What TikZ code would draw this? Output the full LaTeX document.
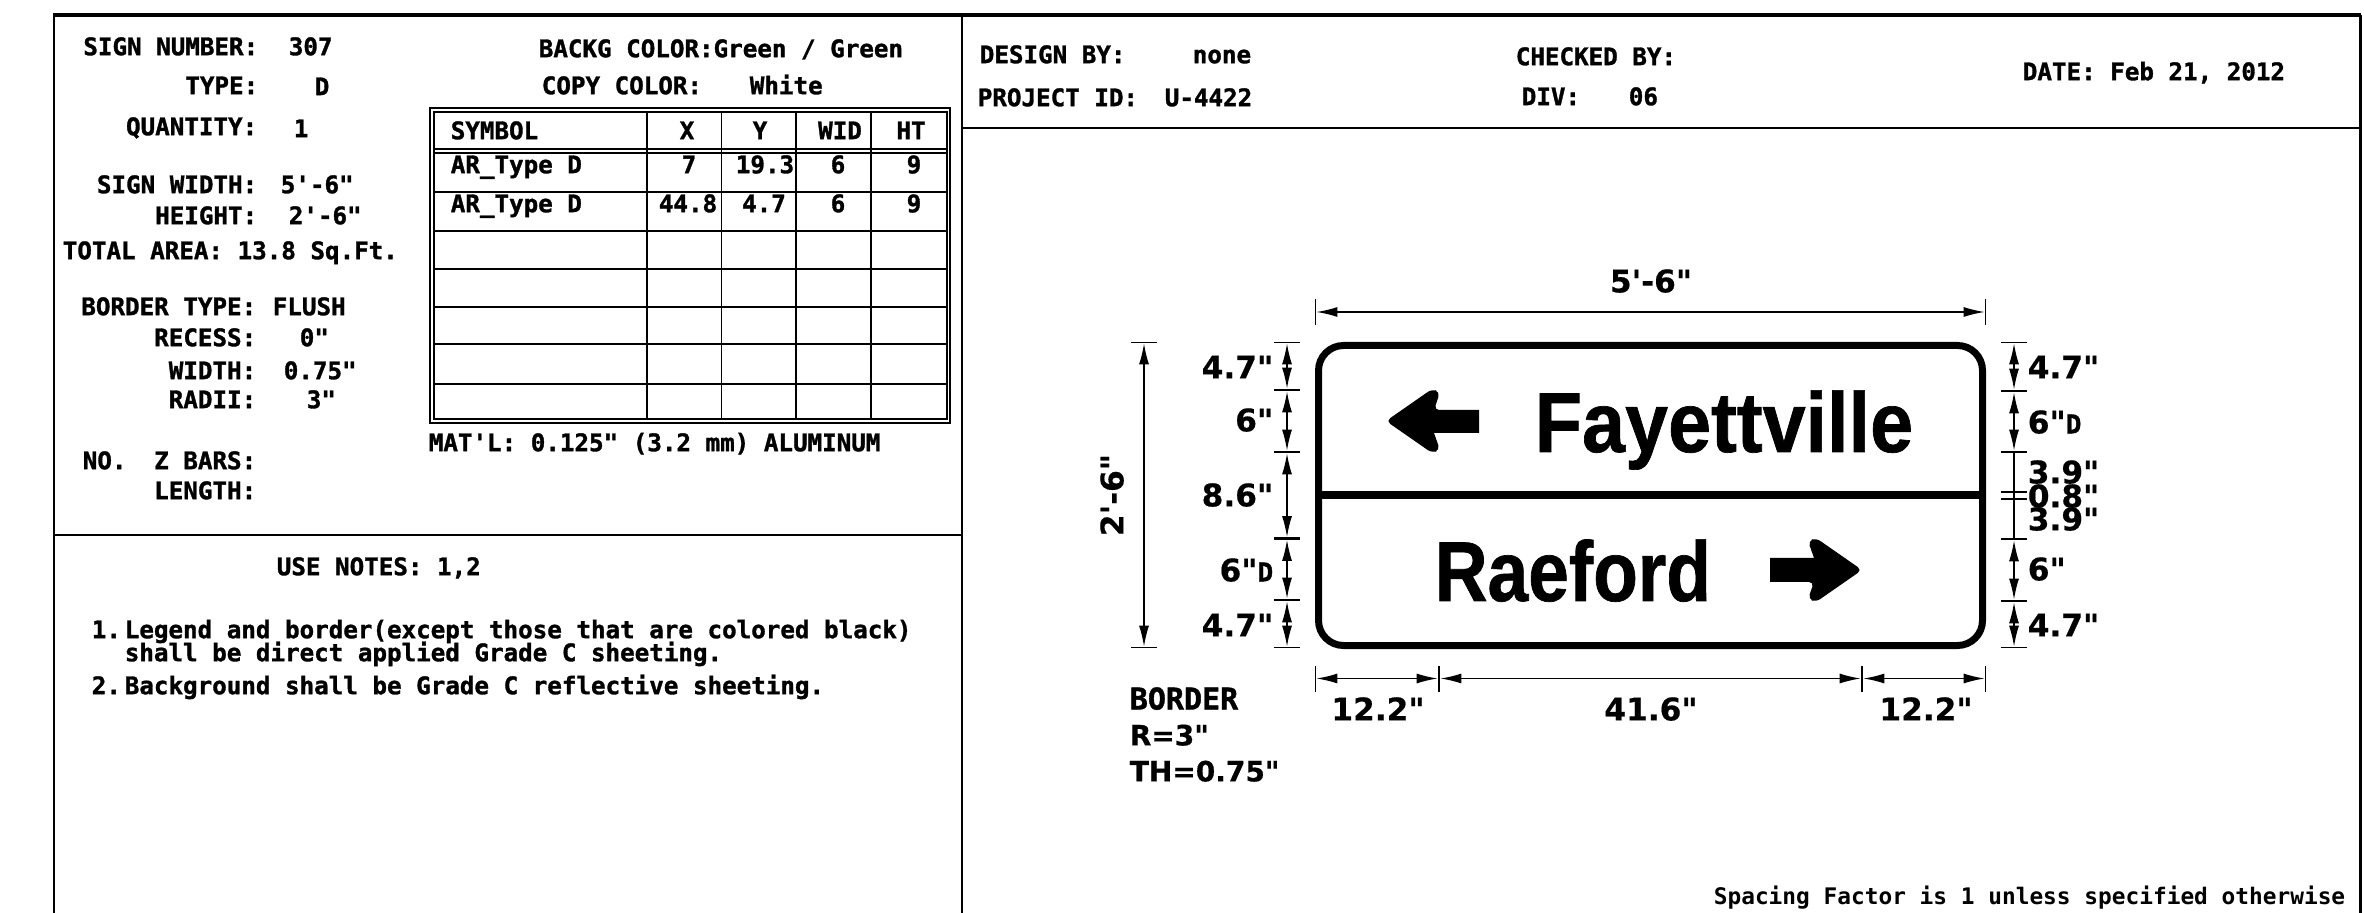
\documentclass[tikz,border=0pt]{standalone}
\usepackage{fontspec}
\usepackage{tikz}
\usetikzlibrary{arrows.meta}
\setmonofont[BoldFont = {DejaVu Sans Mono Bold}, BoldItalicFont = {DejaVu Sans Mono Bold Oblique}, BoldFeatures = {FakeBold = 1.3}, BoldItalicFeatures = {FakeBold = 1.3}]{DejaVu Sans Mono}
\newfontfamily\dimfont[BoldFont = {DejaVu Sans Bold}, BoldItalicFont = {DejaVu Sans Bold Oblique}, BoldFeatures = {FakeBold = 0.5}, BoldItalicFeatures = {FakeBold = 0.5}]{DejaVu Sans}
\newfontfamily\spcfont{DejaVu Sans Mono Bold}
\newfontfamily\signfont[FakeStretch = 0.91, BoldFeatures = {FakeBold = 0.8}]{Liberation Sans}
\newfontfamily\raefont[FakeStretch = 0.86, BoldFeatures = {FakeBold = 0.8}]{Liberation Sans}
\newcommand{\ft}{{\itshape\char"27}}
\newcommand{\inch}{{\itshape\char"22}}

\begin{document}
\begin{tikzpicture}[x = 0.5pt, y = -0.5pt, line width = 0.8pt,
        txt/.style = {inner sep = 0pt, text height = 8.2pt, text depth = 0pt, font = \ttfamily\bfseries\fontsize{12.1}{14}\selectfont},
        dimtxt/.style = {inner sep = 0pt, text height = 11.4pt, text depth = 0pt, font = \dimfont\bfseries\fontsize{15.6}{17}\selectfont},
        dim/.style = {line width = 0.7pt, {Bar[width = 13pt].Latex[length = 10.5pt, width = 5pt]}-{Latex[length = 10.5pt, width = 5pt].Bar[width = 13pt]}},
        mark line/.style = {line width = 0.7pt, {Bar[width = 13pt]}-{Bar[width = 13pt]}}]
        \useasboundingbox (0, 0) rectangle (2364, 913);

        % frame
        \draw[line width = 1pt] (54, 913) -- (54, 15);
        \draw[line width = 2pt] (53, 15) -- (2361, 15);
        \draw[line width = 1.5pt] (2360, 15) -- (2360, 913);
        \draw[line width = 0.8pt] (962, 15) -- (962, 913);
        \draw[line width = 1pt] (54, 535) -- (962, 535);
        \draw[line width = 1pt] (962, 128) -- (2360, 128);

        % sign data
        \node (num) [txt, anchor = east] at (259, 47) {SIGN NUMBER:};
        \node (numv) [txt, anchor = west] at (288, 47) {307};
        \node (typ) [txt, anchor = east] at (259, 86) {TYPE:};
        \node (typv) [txt, anchor = west] at (314, 87) {D};
        \node (qty) [txt, anchor = east] at (258, 127) {QUANTITY:};
        \node (qtyv) [txt, anchor = west] at (293, 129) {1};
        \node (wid) [txt, anchor = east] at (258, 185) {SIGN WIDTH:};
        \node (widv) [txt, anchor = west] at (280, 185) {5\ft-6\inch};
        \node (hgt) [txt, anchor = east] at (258, 216) {HEIGHT:};
        \node (hgtv) [txt, anchor = west] at (288, 216) {2\ft-6\inch};
        \node (area) [txt, anchor = west] at (62, 251) {TOTAL AREA: 13.8 Sq.Ft.};
        \node (bord) [txt, anchor = east] at (257, 307) {BORDER TYPE:};
        \node (bordv) [txt, anchor = west] at (272, 307) {FLUSH};
        \node (rec) [txt, anchor = east] at (257, 338) {RECESS:};
        \node (recv) [txt, anchor = west] at (299, 338) {0\inch};
        \node (bwid) [txt, anchor = east] at (257, 371) {WIDTH:};
        \node (bwidv) [txt, anchor = west] at (283, 371) {0.75\inch};
        \node (rad) [txt, anchor = east] at (257, 400) {RADII:};
        \node (radv) [txt, anchor = west] at (306, 400) {3\inch};
        \node (no) [txt, anchor = west] at (82, 461) {NO.};
        \node (zbar) [txt, anchor = east] at (257, 461) {Z BARS:};
        \node (len) [txt, anchor = east] at (257, 491) {LENGTH:};

        \node (back) [txt, anchor = west] at (538, 49) {BACKG COLOR:Green / Green};
        \node (copy) [txt, anchor = west] at (541, 86) {COPY COLOR:};
        \node (copyv) [txt, anchor = west] at (749, 86) {White};

        % table
        \draw[line width = 1pt] (430, 108) rectangle (950, 423);
        \draw[line width = 1pt] (434, 112) rectangle (947, 419);
        \draw (647, 112) -- (647, 419);
        \draw (721.5, 112) -- (721.5, 419);
        \draw (796, 112) -- (796, 419);
        \draw (871, 112) -- (871, 419);
        \draw (434, 149) -- (947, 149);
        \draw (434, 153) -- (947, 153);
        \draw (434, 192) -- (947, 192);
        \draw (434, 231) -- (947, 231);
        \draw (434, 269) -- (947, 269);
        \draw (434, 307) -- (947, 307);
        \draw (434, 344) -- (947, 344);
        \draw (434, 384) -- (947, 384);

        \node (sym) [txt, anchor = west] at (450, 131) {SYMBOL};
        \node (colx) [txt] at (687, 131) {X};
        \node (coly) [txt] at (760, 131) {Y};
        \node (colw) [txt] at (840, 131) {WID};
        \node (colh) [txt] at (911, 131) {HT};
        \node (sa) [txt, anchor = west] at (450, 165) {AR\_Type D};
        \node (xa) [txt] at (689, 165) {7};
        \node (ya) [txt] at (765, 165) {19.3};
        \node (wa) [txt] at (838, 165) {6};
        \node (tha) [txt] at (914, 165) {9};
        \node (sb) [txt, anchor = west] at (450, 204) {AR\_Type D};
        \node (xb) [txt] at (688, 204) {44.8};
        \node (yb) [txt] at (764, 204) {4.7};
        \node (wb) [txt] at (838, 204) {6};
        \node (thb) [txt] at (914, 204) {9};
        \node (matl) [txt, anchor = west] at (428, 443) {MAT\ft L: 0.125\inch{} (3.2 mm) ALUMINUM};

        % notes
        \node (use) [txt, anchor = west] at (276, 567) {USE NOTES: 1,2};
        \node (na) [txt, anchor = west] at (91, 630) {1.};
        \node (naa) [txt, anchor = west] at (124, 630) {Legend and border(except those that are colored black)};
        \node (nab) [txt, anchor = west] at (124, 653) {shall be direct applied Grade C sheeting.};
        \node (nb) [txt, anchor = west] at (91, 686) {2.};
        \node (nba) [txt, anchor = west] at (124, 686) {Background shall be Grade C reflective sheeting.};

        % header
        \node (des) [txt, anchor = west] at (979, 55) {DESIGN BY:};
        \node (desv) [txt, anchor = west] at (1192, 55) {none};
        \node (prj) [txt, anchor = west] at (977, 98) {PROJECT ID:};
        \node (prjv) [txt, anchor = west] at (1164, 98) {U-4422};
        \node (chk) [txt, anchor = west] at (1515, 57) {CHECKED BY:};
        \node (div) [txt, anchor = west] at (1521, 97) {DIV:};
        \node (divv) [txt, anchor = west] at (1628, 97) {06};
        \node (date) [txt, anchor = west] at (2022, 72) {DATE: Feb 21, 2012};

        % sign
        \node (sign) [draw, rounded corners = 12.5pt, line width = 3.5pt, minimum width = 332pt, minimum height = 150pt, inner sep = 0pt] at (1650.5, 495.5) {};
        \draw[line width = 4pt] (sign.west) -- (sign.east);
        \node (fay) [inner sep = 0pt, anchor = base west, font = \signfont\bfseries\fontsize{42.5}{46}\selectfont] at (1534, 452) {Fayettville};
        \node (rae) [inner sep = 0pt, anchor = base west, font = \raefont\bfseries\fontsize{42.5}{46}\selectfont] at (1434, 601) {Raeford};
        \fill (1386, 421) [rounded corners = 2.5pt] -- (1432, 389) -- (1440, 392) -- (1434, 410) [sharp corners] -- (1479, 410) -- (1479, 433) -- (1434, 433) [rounded corners = 2.5pt] -- (1440, 450) -- (1432, 453) -- cycle;
        \fill (1862, 570) [rounded corners = 2.5pt] -- (1816, 602) -- (1808, 599) -- (1814, 582) [sharp corners] -- (1770, 582) -- (1770, 558) -- (1814, 558) [rounded corners = 2.5pt] -- (1808, 541) -- (1816, 538) -- cycle;

        % dimension ends
        \coordinate (ta) at (1315, 312);
        \coordinate (tb) at (1986, 312);
        \coordinate (ba) at (1315, 678.5);
        \coordinate (bb) at (1439, 678.5);
        \coordinate (bc) at (1862, 678.5);
        \coordinate (bd) at (1986, 678.5);
        \coordinate (ha) at (1144, 342);
        \coordinate (hb) at (1144, 648);
        \coordinate (la) at (1287, 342);
        \coordinate (lb) at (1287, 390);
        \coordinate (lc) at (1287, 452);
        \coordinate (ld) at (1287, 538.5);
        \coordinate (le) at (1287, 600);
        \coordinate (lf) at (1287, 648);
        \coordinate (ra) at (2014, 342);
        \coordinate (rb) at (2014, 391);
        \coordinate (rc) at (2014, 452);
        \coordinate (rd) at (2014, 492);
        \coordinate (re) at (2014, 499);
        \coordinate (rf) at (2014, 539);
        \coordinate (rg) at (2014, 601);
        \coordinate (rh) at (2014, 648);

        \draw[dim] (ta) -- (tb);
        \draw[dim] (ba) -- (bb);
        \draw[dim] (bb) -- (bc);
        \draw[dim] (bc) -- (bd);
        \draw[dim] (ha) -- (hb);
        \draw[dim] (la) -- (lb);
        \draw[dim] (lb) -- (lc);
        \draw[dim] (lc) -- (ld);
        \draw[dim] (ld) -- (le);
        \draw[dim] (le) -- (lf);
        \draw[dim] (ra) -- (rb);
        \draw[dim] (rb) -- (rc);
        \draw[mark line] (rc) -- (rf);
        \draw[dim] (rf) -- (rg);
        \draw[dim] (rg) -- (rh);
        \draw[line width = 0.7pt] ([xshift = -6.5pt]rd) -- ([xshift = 6.5pt]rd);
        \draw[line width = 0.7pt] ([xshift = -6.5pt]re) -- ([xshift = 6.5pt]re);

        % dimension labels
        \node (tl) [dimtxt] at (1651, 281) {5\ft-6\inch};
        \node (hl) [dimtxt, rotate = 90] at (1112, 495) {2\ft-6\inch};
        \node (bla) [dimtxt] at (1378, 709) {12.2\inch};
        \node (blb) [dimtxt] at (1651, 709) {41.6\inch};
        \node (blc) [dimtxt] at (1926, 709) {12.2\inch};
        \node (lla) [dimtxt, anchor = east] at (1274, 367) {4.7\inch};
        \node (llb) [dimtxt, anchor = east] at (1274, 420) {6\inch};
        \node (llc) [dimtxt, anchor = east] at (1274, 495) {8.6\inch};
        \node (lld) [dimtxt, anchor = east] at (1274, 570) {6\inch{\ttfamily\fontsize{13}{14}\selectfont D}};
        \node (lle) [dimtxt, anchor = east] at (1274, 625) {4.7\inch};
        \node (rla) [dimtxt, anchor = west] at (2027, 367) {4.7\inch};
        \node (rlb) [dimtxt, anchor = west] at (2027, 422) {6\inch{\ttfamily\fontsize{13}{14}\selectfont D}};
        \node (rlc) [dimtxt, anchor = west] at (2027, 472) {3.9\inch};
        \node (rld) [dimtxt, anchor = west] at (2027, 496) {0.8\inch};
        \node (rle) [dimtxt, anchor = west] at (2027, 519) {3.9\inch};
        \node (rlf) [dimtxt, anchor = west] at (2027, 569) {6\inch};
        \node (rlg) [dimtxt, anchor = west] at (2027, 625) {4.7\inch};

        \node (bt) [txt, anchor = west, font = \ttfamily\bfseries\fontsize{15}{17}\selectfont, text height = 10.5pt] at (1129, 699) {BORDER};
        \node (br) [dimtxt, anchor = west, font = \dimfont\bfseries\fontsize{14}{17}\selectfont] at (1129, 734) {R=3\inch};
        \node (bw) [dimtxt, anchor = west, font = \dimfont\bfseries\fontsize{14}{17}\selectfont] at (1129, 770) {TH=0.75\inch};

        \node (spc) [txt, anchor = west, font = \spcfont\fontsize{11.4}{14}\selectfont] at (1713, 896) {Spacing Factor is 1 unless specified otherwise};
    \end{tikzpicture}
\end{document}
